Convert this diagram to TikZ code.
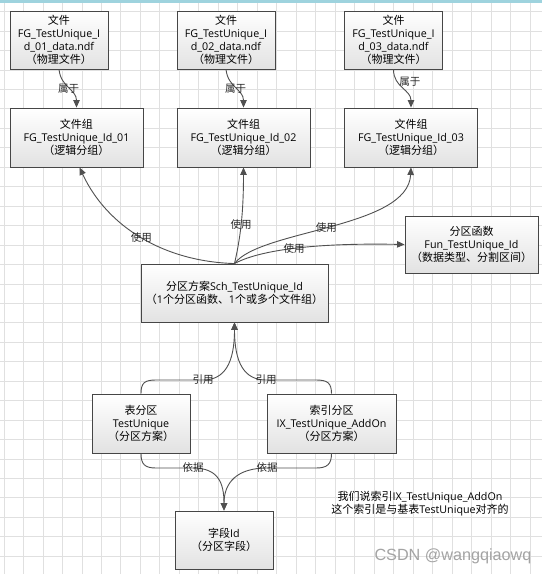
\documentclass[tikz,border=0pt]{standalone}
\usepackage{fontspec}
\setmainfont{Open Sans}
\newfontfamily\cjk{Noto Sans CJK SC}
\newfontfamily\wmfont{Liberation Sans}
\usetikzlibrary{arrows.meta}
\definecolor{gridc}{RGB}{224,224,224}
\definecolor{barc}{RGB}{158,211,222}
\definecolor{linec}{RGB}{80,80,80}
\definecolor{borderc}{RGB}{70,70,70}
\definecolor{boxbot}{RGB}{226,226,226}
\newcommand{\boxfont}{\fontsize{10.7}{13.2}\selectfont}
\newcommand{\lblfont}{\cjk\fontsize{10.5}{12}\selectfont}
\newcommand{\zh}[1]{{\cjk\fontsize{11}{13.2}\selectfont #1}}
\begin{document}
\begin{tikzpicture}[x=1pt,y=-1pt,
  gridline/.style={draw=gridc, line width=0.8pt},
  nbox/.style={draw=borderc, line width=0.9pt, top color=white, bottom color=boxbot,
    align=center, inner sep=0pt, font=\boxfont, text=black},
  lbl/.style={font=\lblfont, inner sep=0pt, text=black!85},
  conn/.style={draw=linec, line width=0.9pt, -{Triangle[length=7.5pt,width=6.5pt]}},
  notetext/.style={align=center, font=\boxfont, text=black, inner sep=0pt}]
\useasboundingbox (0,0) rectangle (542,574);
\fill[white] (0,0) rectangle (542,574);
% grid
\foreach \i in {0,...,27} {\draw[gridline] ({4+19.48*\i},0) -- ({4+19.48*\i},574);}
\foreach \j in {0,...,28} {\draw[gridline] (0,{11.6+19.45*\j}) -- (542,{11.6+19.45*\j});}
\fill[barc] (0,0) rectangle (542,3);

% file boxes
\node[nbox, minimum width=98pt, minimum height=58pt] (f1) at (59,40) {\zh{文件}\\FG\_TestUnique\_I\\d\_01\_data.ndf\\\zh{（物理文件）}};
\node[nbox, minimum width=98pt, minimum height=58pt] (f2) at (226,40) {\zh{文件}\\FG\_TestUnique\_I\\d\_02\_data.ndf\\\zh{（物理文件）}};
\node[nbox, minimum width=98pt, minimum height=58pt] (f3) at (393.5,40) {\zh{文件}\\FG\_TestUnique\_I\\d\_03\_data.ndf\\\zh{（物理文件）}};
% file groups
\node[nbox, minimum width=133pt, minimum height=59pt] (g1) at (76.5,137.5) {\zh{文件组}\\FG\_TestUnique\_Id\_01\\\zh{（逻辑分组）}};
\node[nbox, minimum width=133pt, minimum height=59pt] (g2) at (243.5,137.5) {\zh{文件组}\\FG\_TestUnique\_Id\_02\\\zh{（逻辑分组）}};
\node[nbox, minimum width=133pt, minimum height=59pt] (g3) at (411,137.5) {\zh{文件组}\\FG\_TestUnique\_Id\_03\\\zh{（逻辑分组）}};
% scheme and function
\node[nbox, minimum width=187pt, minimum height=58pt] (sch) at (234.5,293) {\zh{分区方案}Sch\_TestUnique\_Id\\\zh{（}1\zh{个分区函数、}1\zh{个或多个文件组）}};
\node[nbox, minimum width=133pt, minimum height=57pt] (fun) at (471.5,244.5) {\zh{分区函数}\\Fun\_TestUnique\_Id\\\zh{（数据类型、分割区间）}};
% partitions
\node[nbox, minimum width=98pt, minimum height=59pt] (tab) at (141,423.5) {\zh{表分区}\\TestUnique\\\zh{（分区方案）}};
\node[nbox, minimum width=129pt, minimum height=59pt] (idx) at (331.5,423.5) {\zh{索引分区}\\IX\_TestUnique\_AddOn\\\zh{（分区方案）}};
\node[nbox, minimum width=98pt, minimum height=58pt] (fld) at (224,540) {\zh{字段}Id\\\zh{（分区字段）}};

% note and watermark
\node[notetext] (note) at (420,503.5) {\zh{我们说索引}IX\_TestUnique\_AddOn\\\zh{这个索引是与基表}TestUnique\zh{对齐的}};
\node[font=\wmfont\fontsize{16.2}{20}\selectfont, text=black!36, inner sep=0pt] (wm) at (453,556) {CSDN @wangqiaowq};

% file -> group
\draw[conn] (f1.south) .. controls +(2,18) and +(0,-18) .. node[lbl, pos=0.5] {属于} (g1.north);
\draw[conn] (f2.south) .. controls +(2,18) and +(0,-18) .. node[lbl, pos=0.5] {属于} (g2.north);
\draw[conn] (f3.south) .. controls +(0,18) and +(0,-18) .. node[lbl, pos=0.28, anchor=west, xshift=2pt] {属于} (g3.north);

% scheme -> groups / function
\draw[conn] (sch.north) .. controls +(-70,-2) and +(28,60) .. node[lbl, pos=0.5] {使用} ([xshift=3pt]g1.south);
\draw[conn] (sch.north) .. controls +(5.5,-24) and +(0,48) .. node[lbl, pos=0.5] {使用} (g2.south);
\draw[conn] (sch.north) .. controls +(25.5,-34) and +(-3,61) .. node[lbl, pos=0.48] {使用} (g3.south);
\draw[conn] (sch.north) .. controls +(30,-16) and +(-75,-1.5) .. node[lbl, pos=0.45] {使用} (fun.west);

% partitions -> scheme
\draw[conn] (tab.north) .. controls +(0,-11) and +(-11,0) .. (156,380) -- node[lbl, pos=1] {引用} (203,380) .. controls +(22,0) and +(0,40) .. (sch.south);
\draw[conn] (idx.north) .. controls +(0,-11) and +(11,0) .. (316,380) -- node[lbl, pos=1] {引用} (266,380) .. controls +(-22,0) and +(0,40) .. (sch.south);

% partitions -> field
\draw[conn] (tab.south) .. controls +(0,11) and +(-11,0) .. (156,468) -- node[lbl, pos=1] {依据} (193,468) .. controls +(25,0) and +(0,-28) .. (fld.north);
\draw[conn] (idx.south) .. controls +(0,11) and +(11,0) .. (316,468) -- node[lbl, pos=1] {依据} (267,468) .. controls +(-30,0) and +(0,-28) .. (fld.north);
\end{tikzpicture}
\end{document}
